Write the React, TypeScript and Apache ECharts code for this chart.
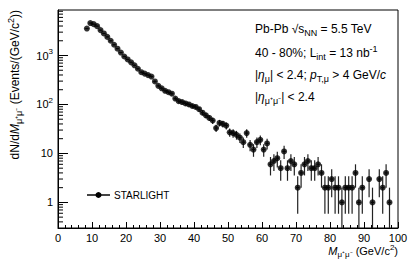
import { useEffect, useRef } from "react";
import * as echarts from "echarts";

const masses = [
  8.5, 9.5, 10.5, 11.5, 12.5, 13.5, 14.5, 15.5, 16.5, 17.5, 18.5, 19.5,
  20.5, 21.5, 22.5, 23.5, 24.5, 25.5, 26.5, 27.5, 28.5, 29.5,
  30.5, 31.5, 32.5, 33.5, 34.5, 35.5, 36.5, 37.5, 38.5, 39.5,
  40.5, 41.5, 42.5, 43.5, 44.5, 45.5, 46.5, 47.5, 48.5, 49.5,
  50.5, 51.5, 52.5, 53.5, 54.5, 55.5, 56.5, 57.5, 58.5, 59.5,
  60.5, 61.5, 62.5, 63.5, 64.5, 65.5, 66.5, 67.5, 68.5, 69.5,
  70.5, 71.5, 72.5, 73.5, 74.5, 75.5, 76.5, 77.5, 78.5, 79.5,
  80.5, 81.5, 82.5, 83.5, 84.5, 85.5, 86.5, 87.5, 88.5, 89.5,
  91.5, 92.5, 94.5, 95.5, 96.5, 97.5,
];

const counts = [
  3550, 4600, 4370, 3980, 3300, 2820, 2400, 2000, 1660, 1380, 1150, 955,
  830, 725, 630, 537, 457, 427, 398, 372, 295, 240,
  214, 190, 178, 166, 132, 117, 112, 105, 100, 93,
  89, 80, 68, 60, 53, 47, 33, 42, 40, 37,
  27, 26, 24, 21, 17, 26, 15, 12, 17, 19,
  12, 16, 6, 7, 8, 5, 11, 5, 7, 6,
  2, 4, 6, 7, 5, 5, 6, 4, 2, 2,
  3, 2, 2, 1, 2, 2, 2, 4, 1, 2,
  3, 1, 3, 2, 4, 1,
];

const xTicks = [0, 10, 20, 30, 40, 50, 60, 70, 80, 90, 100];
const yMinorTicks = [
  0.4, 0.5, 0.6, 0.7, 0.8, 0.9,
  2, 3, 4, 5, 6, 7, 8, 9,
  20, 30, 40, 50, 60, 70, 80, 90,
  200, 300, 400, 500, 600, 700, 800, 900,
  2000, 3000, 4000, 5000, 6000, 7000, 8000,
];

const X_MIN = 0;
const X_MAX = 100;
const Y_MIN = 0.3;
const Y_MAX = 8500;

const FONT = "'Liberation Sans', Arial, Helvetica, sans-serif";

function makeRich(size: number, subSize: number) {
  const base = { fontFamily: FONT, fontSize: size, fill: "#000" };
  return {
    base,
    rich: {
      n: { ...base },
      i: { ...base, fontStyle: "italic" },
      sub: { ...base, fontSize: subSize, padding: [Math.round(size * 0.6), 0, 0, 0] },
      sup: { ...base, fontSize: subSize, padding: [0, 0, Math.round(size * 0.7), 0] },
    },
  };
}

export default function App() {
  const ref = useRef<HTMLDivElement>(null);

  useEffect(() => {
    if (!ref.current) return;
    const chart = echarts.init(ref.current, undefined, { renderer: "svg" });

    const points = masses.map((m, i) => [m, counts[i], Math.sqrt(counts[i])]);

    const ann = makeRich(12, 9);
    const ttl = makeRich(12, 9);

    const mid = { textVerticalAlign: "middle", verticalAlign: "middle" };

    const option: any = {
      animation: false,
      grid: {
        left: 58,
        right: 17,
        top: 10,
        bottom: 32,
        show: true,
        borderColor: "#000",
        borderWidth: 1,
        backgroundColor: "transparent",
      },
      xAxis: {
        type: "value",
        min: X_MIN,
        max: X_MAX,
        interval: 10,
        axisLine: { show: true, lineStyle: { color: "#000", width: 1 } },
        axisTick: { show: true, inside: true, length: 6, lineStyle: { color: "#000" } },
        minorTick: { show: true, splitNumber: 5, length: 3, lineStyle: { color: "#000" } },
        splitLine: { show: false },
        minorSplitLine: { show: false },
        axisLabel: {
          margin: 4,
          color: "#000",
          fontFamily: FONT,
          fontSize: 11,
          formatter: (v: number) => (xTicks.includes(Math.round(v)) ? String(Math.round(v)) : ""),
        },
      },
      yAxis: {
        type: "log",
        logBase: 10,
        min: Y_MIN,
        max: Y_MAX,
        axisLine: { show: true, lineStyle: { color: "#000", width: 1 } },
        axisTick: { show: true, inside: true, length: 10, lineStyle: { color: "#000" } },
        splitLine: { show: false },
        axisLabel: {
          margin: 5,
          color: "#000",
          fontFamily: FONT,
          fontSize: 11,
          showMinLabel: false,
          showMaxLabel: false,
          formatter: (v: number) => {
            const e = Math.round(Math.log10(v));
            if (Math.abs(Math.log10(v) - e) > 1e-6) return "";
            if (e === 0) return "1";
            if (e === 1) return "10";
            return "{b|10}{s|" + e + "}";
          },
          rich: {
            b: { fontFamily: FONT, fontSize: 11, color: "#000" },
            s: { fontFamily: FONT, fontSize: 8, color: "#000", padding: [0, 0, 8, 0] },
          },
        },
      },
      series: [
        {
          type: "custom",
          name: "minorTicks",
          silent: true,
          clip: false,
          data: yMinorTicks.map((v) => [X_MIN, v]),
          renderItem: (params: any, api: any) => {
            const p = api.coord([api.value(0), api.value(1)]);
            return {
              type: "line",
              shape: { x1: p[0], y1: p[1], x2: p[0] + 5, y2: p[1] },
              style: { stroke: "#000", lineWidth: 1 },
            };
          },
          z: 3,
        },
        {
          type: "custom",
          name: "errors",
          silent: true,
          clip: true,
          data: points,
          renderItem: (params: any, api: any) => {
            const x = api.value(0);
            const y = api.value(1);
            const e = api.value(2);
            const lo = Math.max(y - e, Y_MIN);
            const hi = Math.min(y + e, Y_MAX);
            const a = api.coord([x, lo]);
            const b = api.coord([x, hi]);
            const l = api.coord([x - 0.5, y]);
            const r = api.coord([x + 0.5, y]);
            return {
              type: "group",
              children: [
                {
                  type: "line",
                  shape: { x1: a[0], y1: a[1], x2: b[0], y2: b[1] },
                  style: { stroke: "#222", lineWidth: 1.2 },
                },
                {
                  type: "line",
                  shape: { x1: l[0], y1: l[1], x2: r[0], y2: r[1] },
                  style: { stroke: "#222", lineWidth: 1.2 },
                },
              ],
            };
          },
          z: 4,
        },
        {
          type: "scatter",
          name: "STARLIGHT",
          data: points.map((p) => [p[0], p[1]]),
          symbol: "circle",
          symbolSize: 6,
          itemStyle: { color: "#000" },
          z: 5,
        },
      ],
      graphic: [
        {
          type: "text",
          x: 255,
          y: 29,
          style: {
            text: "{n|Pb-Pb }{n|√}{n|s}{sub|NN}{n| = 5.5 TeV}",
            rich: ann.rich,
            ...ann.base,
            ...mid,
          },
        },
        {
          type: "text",
          x: 255,
          y: 53,
          style: {
            text: "{n|40 - 80%; L}{sub|int}{n| = 13 nb}{sup|-1}",
            rich: ann.rich,
            ...ann.base,
            ...mid,
          },
        },
        {
          type: "text",
          x: 255,
          y: 75,
          style: {
            text: "{n||}{i|η}{sub|μ}{n|| < 2.4; }{i|p}{sub|T,μ}{n| > 4 GeV/}{i|c}",
            rich: ann.rich,
            ...ann.base,
            ...mid,
          },
        },
        {
          type: "text",
          x: 255,
          y: 97,
          style: {
            text: "{n||}{i|η}{sub|μ⁺μ⁻}{n|| < 2.4}",
            rich: ann.rich,
            ...ann.base,
            ...mid,
          },
        },
        {
          type: "text",
          x: 398,
          y: 251,
          style: {
            text: "{i|M}{sub|μ⁺μ⁻}{n| (GeV/c}{sup|2}{n|)}",
            rich: makeRich(11, 8).rich,
            ...makeRich(11, 8).base,
            textAlign: "right",
            align: "right",
            ...mid,
          },
        },
        {
          type: "text",
          x: 15,
          y: 10,
          rotation: Math.PI / 2,
          style: {
            text: "{n|dN/d}{i|M}{sub|μ⁺μ⁻}{n| (Events/(GeV/c}{sup|2}{n|))}",
            rich: ttl.rich,
            ...ttl.base,
            textAlign: "right",
            align: "right",
            ...mid,
          },
        },
        {
          type: "line",
          shape: { x1: 87, y1: 195, x2: 110, y2: 195 },
          style: { stroke: "#444", lineWidth: 2 },
        },
        {
          type: "circle",
          shape: { cx: 98.5, cy: 195, r: 3 },
          style: { fill: "#000" },
        },
        {
          type: "text",
          x: 114,
          y: 195,
          style: {
            text: "STARLIGHT",
            fontFamily: FONT,
            fontSize: 10,
            fill: "#000",
            ...mid,
          },
        },
      ],
    };

    chart.setOption(option);
    return () => chart.dispose();
  }, []);

  return <div ref={ref} style={{ width: 415, height: 260, position: "absolute", left: 0, top: 0 }} />;
}
